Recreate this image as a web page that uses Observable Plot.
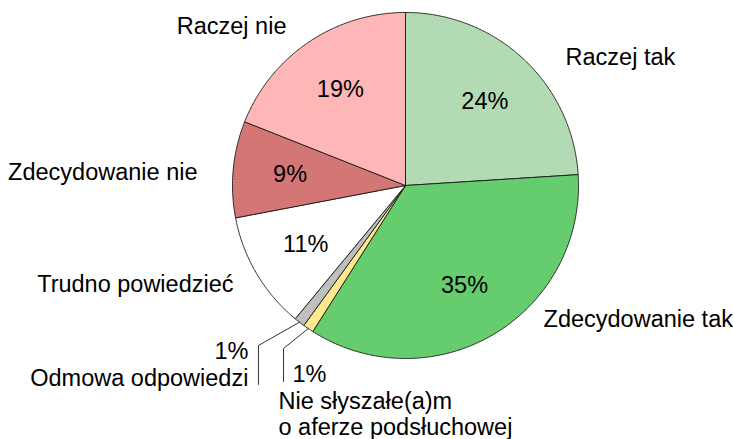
<!DOCTYPE html>
<html>
<head>
<meta charset="utf-8">
<script src="https://cdn.jsdelivr.net/npm/d3@7"></script>
<script src="https://cdn.jsdelivr.net/npm/@observablehq/plot@0.6"></script>
<style>
  html, body { margin: 0; padding: 0; background: #fff; }
  #chart svg { display: block; }
</style>
</head>
<body>
<div id="chart"></div>
<script>
// ---- data ----
const categories = [
  "Raczej tak",
  "Zdecydowanie tak",
  "Nie słyszałe(a)m\no aferze podsłuchowej",
  "Odmowa odpowiedzi",
  "Trudno powiedzieć",
  "Zdecydowanie nie",
  "Raczej nie"
];
const values = [24, 35, 1, 1, 11, 9, 19];
const colors = ["#b3dbb3", "#66cd6f", "#ffe98c", "#bfbfbf", "#ffffff", "#d47676", "#ffb6b6"];

// ---- layout (label anchors in units of pie radius, relative to centre) ----
const nameLayout = [
  {x: 0.925, y: 0.746, anchor: "start"},
  {x: 0.798, y: -0.772, anchor: "start"},
  {x: -0.734, y: -1.321, anchor: "start"},
  {x: -0.908, y: -1.110, anchor: "end"},
  {x: -0.994, y: -0.566, anchor: "end"},
  {x: -1.202, y: 0.081, anchor: "end"},
  {x: -0.688, y: 0.922, anchor: "end"}
];
// outer percent labels + leader lines for the thin slices
const outerPct = {
  2: {x: -0.653, y: -1.095, anchor: "start", elbow: [-0.705, -0.942], end: [-0.705, -1.133]},
  3: {x: -0.908, y: -0.962, anchor: "end", elbow: [-0.850, -0.925], end: [-0.850, -1.150]}
};

const W = 733, H = 439, R = 173, cx = 405, cy = 185;
const FONT = "Liberation Sans, Arial, Helvetica, sans-serif";
const FS = 23.5;

const arcs = d3.pie().sort(null).value(d => d)(values);
const pt = (a, r) => ({x: r * Math.sin(a), y: r * Math.cos(a)});

const sliceMarks = arcs.map((a, i) => {
  const pts = [{x: 0, y: 0}];
  const n = Math.max(2, Math.ceil((a.endAngle - a.startAngle) / (Math.PI / 360)));
  for (let k = 0; k <= n; k++) pts.push(pt(a.startAngle + (a.endAngle - a.startAngle) * k / n, 1));
  pts.push({x: 0, y: 0});
  return Plot.line(pts, {x: "x", y: "y", fill: colors[i], stroke: "#1a1a1a", strokeWidth: 0.9, strokeLinejoin: "round"});
});

const innerLabels = arcs.map((a, i) => {
  const m = (a.startAngle + a.endAngle) / 2;
  return {...pt(m, 0.67), text: values[i] + "%", inner: !(i in outerPct)};
}).filter(d => d.inner);

const nameLabels = categories.map((c, i) => ({text: c, ...nameLayout[i]}));
const pctOuter = Object.entries(outerPct).map(([i, o]) => ({text: values[i] + "%", x: o.x, y: o.y, anchor: o.anchor}));

const leaderMarks = Object.entries(outerPct).map(([i, o]) => {
  const a = arcs[i];
  const s = pt((a.startAngle + a.endAngle) / 2, 1);
  const pts = [s, {x: o.elbow[0], y: o.elbow[1]}, {x: o.end[0], y: o.end[1]}];
  return Plot.line(pts, {x: "x", y: "y", stroke: "#1a1a1a", strokeWidth: 0.9});
});

const textMarks = ["start", "end"].flatMap(anc => [
  Plot.text(nameLabels.filter(d => d.anchor === anc), {x: "x", y: "y", text: "text", textAnchor: anc, fontSize: FS, lineHeight: 1.11, fill: "#000"}),
  Plot.text(pctOuter.filter(d => d.anchor === anc), {x: "x", y: "y", text: "text", textAnchor: anc, fontSize: FS, fill: "#000"})
]);

const chart = Plot.plot({
  width: W,
  height: H,
  margin: 0,
  style: {fontFamily: FONT, background: "#fff", overflow: "visible"},
  x: {domain: [-cx / R, (W - cx) / R], axis: null},
  y: {domain: [-(H - cy) / R, cy / R], axis: null},
  marks: [
    ...sliceMarks,
    ...leaderMarks,
    Plot.text(innerLabels, {x: "x", y: "y", text: "text", fontSize: FS, fill: "#000"}),
    ...textMarks
  ]
});
document.getElementById("chart").appendChild(chart);
</script>
</body>
</html>
